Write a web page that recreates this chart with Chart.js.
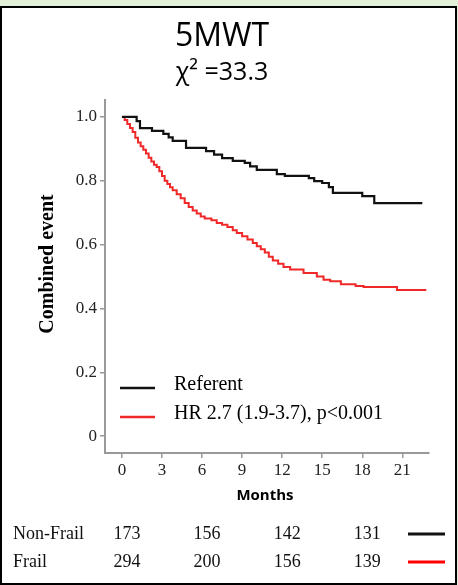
<!DOCTYPE html>
<html>
<head>
<meta charset="utf-8">
<title>5MWT</title>
<script src="https://cdn.jsdelivr.net/npm/chart.js@4/dist/chart.umd.min.js"></script>
<style>
  body { margin: 0; background: #e2efd9; }
  canvas { display: block; }
</style>
</head>
<body>
<canvas id="kmChart" width="458" height="585"></canvas>
<script>
// Kaplan-Meier curves: months since baseline vs. event-free proportion
var nonFrailMonths = [0, 1.1, 1.35, 2.25, 3.1, 3.5, 3.8, 4.8, 6.3, 6.9, 7.5, 8.3, 9.2, 9.6, 10.1, 11.6, 12.2, 14.0, 14.4, 15.0, 15.5, 15.8, 18.0, 18.9, 22.5];
var nonFrailSurv   = [1.0, 0.987, 0.965, 0.956, 0.947, 0.936, 0.925, 0.903, 0.893, 0.882, 0.871, 0.862, 0.856, 0.845, 0.834, 0.821, 0.815, 0.808, 0.799, 0.793, 0.78, 0.762, 0.752, 0.73, 0.73];

var frailMonths = [0, 0.2, 0.4, 0.6, 0.8, 1.0, 1.2, 1.4, 1.6, 1.8, 2.0, 2.2, 2.4, 2.6, 2.8, 3.0, 3.2, 3.4, 3.6, 3.8, 4.1, 4.4, 4.7, 5.0, 5.3, 5.6, 5.9, 6.2, 6.7, 7.1, 7.5, 7.9, 8.3, 8.6, 9.0, 9.4, 9.8, 10.1, 10.4, 10.7, 11.0, 11.3, 11.7, 12.1, 12.6, 13.6, 14.6, 15.1, 15.6, 16.4, 17.5, 18.1, 20.6, 22.8];
var frailSurv   = [1.0, 0.99, 0.978, 0.965, 0.953, 0.935, 0.92, 0.908, 0.897, 0.885, 0.872, 0.86, 0.85, 0.843, 0.83, 0.815, 0.8, 0.79, 0.78, 0.77, 0.758, 0.745, 0.73, 0.718, 0.707, 0.697, 0.688, 0.682, 0.676, 0.668, 0.662, 0.655, 0.645, 0.636, 0.626, 0.616, 0.605, 0.595, 0.585, 0.575, 0.562, 0.55, 0.54, 0.53, 0.522, 0.511, 0.5, 0.49, 0.485, 0.476, 0.47, 0.467, 0.458, 0.458];

var xTicks = [0, 3, 6, 9, 12, 15, 18, 21];
var yTicks = [0, 0.2, 0.4, 0.6, 0.8, 1.0];

// numbers at risk
var riskMonths = [0, 6, 12, 18];
var nonFrailAtRisk = [173, 156, 142, 131];
var frailAtRisk = [294, 200, 156, 139];

var BLACK = '#111111';
var RED = '#f02828';

function toPoints(xs, ys) {
  return xs.map(function (x, i) { return { x: x, y: ys[i] }; });
}

// white panel with black frame, titles, inline legend and risk table
var decorations = {
  id: 'decorations',
  beforeDraw: function (chart) {
    var c = chart.ctx;
    c.save();
    c.fillStyle = '#e2efd9';
    c.fillRect(0, 0, chart.width, chart.height);
    c.fillStyle = '#ffffff';
    c.fillRect(1, 7, 455, 577);
    c.strokeStyle = '#000000';
    c.lineWidth = 2;
    c.strokeRect(1, 7, 455, 577);
    c.restore();
  },
  afterDraw: function (chart) {
    var c = chart.ctx;
    var xs = chart.scales.x;
    c.save();
    c.fillStyle = '#000';
    c.textAlign = 'center';
    c.textBaseline = 'middle';

    c.font = '32px "Open Sans"';
    c.fillText('5MWT', 222, 37);
    c.font = '25px "Open Sans"';
    c.fillText('\u03c7\u00b2 =33.3', 222, 73);

    // axis titles
    c.font = 'bold 15px "Open Sans"';
    c.fillText('Months', 265, 496);
    c.save();
    c.translate(48, 264);
    c.rotate(-Math.PI / 2);
    c.font = 'bold 20px "Liberation Serif"';
    c.fillText('Combined event', 0, 0);
    c.restore();

    // legend inside the plot
    c.lineWidth = 2.5;
    c.strokeStyle = BLACK;
    c.beginPath(); c.moveTo(120, 388); c.lineTo(155, 388); c.stroke();
    c.strokeStyle = RED;
    c.beginPath(); c.moveTo(120, 417); c.lineTo(155, 417); c.stroke();
    c.textAlign = 'left';
    c.font = '20px "Liberation Serif"';
    c.fillText('Referent', 174, 385);
    c.fillText('HR 2.7 (1.9-3.7), p<0.001', 174, 414);

    // numbers at risk
    c.font = '18px "Liberation Serif"';
    c.fillStyle = '#111';
    c.fillText('Non-Frail', 13, 534);
    c.fillText('Frail', 13, 562);
    c.textAlign = 'center';
    riskMonths.forEach(function (m, i) {
      var px = xs.getPixelForValue(m) + 5;
      c.fillText(String(nonFrailAtRisk[i]), px, 534);
      c.fillText(String(frailAtRisk[i]), px, 562);
    });
    c.lineWidth = 3;
    c.strokeStyle = BLACK;
    c.beginPath(); c.moveTo(408, 534); c.lineTo(445, 534); c.stroke();
    c.strokeStyle = '#ff0000';
    c.beginPath(); c.moveTo(408, 562); c.lineTo(445, 562); c.stroke();
    c.restore();
  }
};

var tickFont = { family: '"Liberation Serif"', size: 17 };

new Chart(document.getElementById('kmChart'), {
  type: 'line',
  data: {
    datasets: [
      {
        label: 'Referent',
        data: toPoints(nonFrailMonths, nonFrailSurv),
        borderColor: BLACK,
        borderWidth: 2.2,
        stepped: true,
        pointRadius: 0,
        fill: false
      },
      {
        label: 'HR 2.7 (1.9-3.7), p<0.001',
        data: toPoints(frailMonths, frailSurv),
        borderColor: RED,
        borderWidth: 2,
        stepped: true,
        pointRadius: 0,
        fill: false
      }
    ]
  },
  options: {
    responsive: false,
    animation: false,
    devicePixelRatio: 1,
    layout: { padding: { left: 0, right: 29, top: 100, bottom: 92 } },
    plugins: {
      legend: { display: false },
      tooltip: { enabled: false }
    },
    scales: {
      x: {
        type: 'linear',
        min: -1.27,
        max: 23,
        afterBuildTicks: function (axis) {
          axis.ticks = xTicks.map(function (v) { return { value: v }; });
        },
        afterFit: function (axis) { axis.height = 40; },
        ticks: { font: tickFont, color: '#222', padding: 2 },
        grid: { drawOnChartArea: false, drawTicks: true, tickLength: 5, color: '#999', lineWidth: 1.5 },
        border: { color: '#999', width: 2 }
      },
      y: {
        type: 'linear',
        min: -0.053,
        max: 1.053,
        afterBuildTicks: function (axis) {
          axis.ticks = yTicks.map(function (v) { return { value: v }; });
        },
        afterFit: function (axis) { axis.width = 105; },
        ticks: {
          font: tickFont,
          color: '#222',
          padding: 3,
          callback: function (v) { return v === 0 ? '0' : v.toFixed(1); }
        },
        grid: { drawOnChartArea: false, drawTicks: true, tickLength: 5, color: '#999', lineWidth: 1.5 },
        border: { color: '#999', width: 2 }
      }
    }
  },
  plugins: [decorations]
});
</script>
</body>
</html>
